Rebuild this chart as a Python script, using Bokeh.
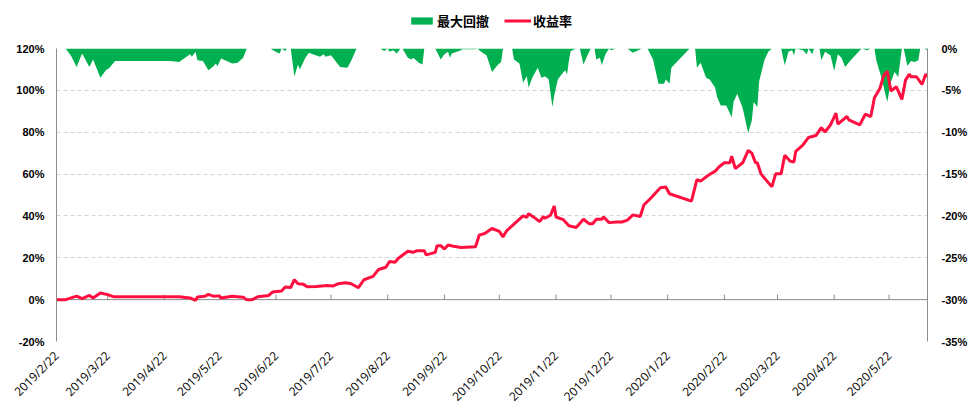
import pandas as pd
from math import pi
from bokeh.plotting import figure
from bokeh.layouts import column
from bokeh.models import Range1d, LinearAxis, FixedTicker, Legend, LegendItem, Span
from bokeh.embed import file_html
from bokeh.resources import INLINE

# ---------------- data ----------------
ret_dates = [
    "2019-02-22", "2019-02-27", "2019-03-05", "2019-03-08", "2019-03-12", "2019-03-14", "2019-03-18",
    "2019-03-22", "2019-03-25", "2019-04-30", "2019-05-06", "2019-05-09", "2019-05-10", "2019-05-14",
    "2019-05-16", "2019-05-19", "2019-05-22", "2019-05-23", "2019-05-29", "2019-06-04", "2019-06-06",
    "2019-06-09", "2019-06-12", "2019-06-18", "2019-06-20", "2019-06-25", "2019-06-27", "2019-06-30",
    "2019-07-02", "2019-07-04", "2019-07-07", "2019-07-09", "2019-07-14", "2019-07-20", "2019-07-23",
    "2019-07-26", "2019-07-30", "2019-08-02", "2019-08-06", "2019-08-09", "2019-08-14", "2019-08-17",
    "2019-08-21", "2019-08-23", "2019-08-26", "2019-08-28", "2019-09-02", "2019-09-05", "2019-09-07",
    "2019-09-11", "2019-09-12", "2019-09-17", "2019-09-18", "2019-09-20", "2019-09-22", "2019-09-24",
    "2019-09-27", "2019-10-01", "2019-10-09", "2019-10-11", "2019-10-14", "2019-10-18", "2019-10-22",
    "2019-10-24", "2019-10-26", "2019-10-30", "2019-11-04", "2019-11-06", "2019-11-07", "2019-11-10",
    "2019-11-13", "2019-11-15", "2019-11-16", "2019-11-19", "2019-11-21", "2019-11-22", "2019-11-26",
    "2019-11-29", "2019-12-03", "2019-12-07", "2019-12-10", "2019-12-12", "2019-12-14", "2019-12-17",
    "2019-12-18", "2019-12-21", "2019-12-25", "2019-12-28", "2019-12-31", "2020-01-03", "2020-01-07",
    "2020-01-09", "2020-01-13", "2020-01-18", "2020-01-21", "2020-01-23", "2020-02-04", "2020-02-07",
    "2020-02-09", "2020-02-13", "2020-02-17", "2020-02-19", "2020-02-22", "2020-02-25", "2020-02-26",
    "2020-02-28", "2020-03-01", "2020-03-03", "2020-03-06", "2020-03-08", "2020-03-10", "2020-03-11",
    "2020-03-13", "2020-03-17", "2020-03-19", "2020-03-21", "2020-03-24", "2020-03-26", "2020-03-29",
    "2020-03-31", "2020-04-01", "2020-04-05", "2020-04-08", "2020-04-12", "2020-04-15", "2020-04-17",
    "2020-04-20", "2020-04-23", "2020-04-24", "2020-04-29", "2020-04-30", "2020-05-06", "2020-05-09",
    "2020-05-12", "2020-05-14", "2020-05-17", "2020-05-19", "2020-05-21", "2020-05-23", "2020-05-26",
    "2020-05-29", "2020-05-31", "2020-06-02", "2020-06-03", "2020-06-06", "2020-06-09", "2020-06-11",
    "2020-06-12",
]
ret_values = [
    0.0, 0.0, 1.7, 0.5, 2.0, 0.8, 3.2,
    2.4, 1.4, 1.4, 0.8, -0.3, 1.3, 1.6,
    2.5, 1.6, 1.8, 0.8, 1.6, 1.2, -0.1,
    0.0, 1.4, 2.0, 3.6, 4.1, 6.0, 5.8,
    9.5, 7.6, 7.3, 6.2, 6.3, 6.8, 6.5,
    7.6, 8.1, 7.6, 5.7, 9.5, 11.1, 14.4,
    15.5, 18.2, 17.9, 19.9, 23.1, 22.6, 23.4,
    23.4, 21.4, 22.6, 25.8, 25.8, 24.2, 26.1,
    25.5, 24.9, 25.3, 30.8, 31.6, 34.0, 32.6,
    30.0, 32.9, 36.1, 40.0, 39.3, 41.1, 39.3,
    37.3, 39.6, 38.9, 40.3, 44.7, 39.5, 38.2,
    35.3, 34.5, 38.4, 36.3, 36.3, 38.4, 38.4,
    39.5, 36.8, 37.1, 37.1, 38.0, 40.5, 39.7,
    45.2, 48.7, 53.5, 53.8, 50.6, 47.1, 57.4,
    56.6, 59.3, 61.4, 63.4, 65.4, 65.4, 68.5,
    62.6, 64.0, 65.4, 71.3, 70.0, 65.4, 65.4,
    60.1, 55.9, 54.0, 60.1, 60.1, 69.0, 66.1,
    65.8, 70.9, 74.0, 77.5, 78.4, 82.2, 80.1,
    83.5, 89.1, 83.9, 87.5, 85.9, 83.5, 88.6,
    87.5, 96.5, 100.9, 106.9, 109.2, 99.7, 101.7,
    95.7, 104.9, 107.7, 106.5, 106.5, 102.8, 107.7,
    106.5,
]

dd_dates = [
    "2019-02-22", "2019-02-27", "2019-03-02", "2019-03-05", "2019-03-08", "2019-03-12", "2019-03-14",
    "2019-03-18", "2019-03-21", "2019-03-23", "2019-03-26", "2019-04-25", "2019-04-30", "2019-05-06",
    "2019-05-07", "2019-05-09", "2019-05-10", "2019-05-13", "2019-05-16", "2019-05-19", "2019-05-20",
    "2019-05-21", "2019-05-23", "2019-05-29", "2019-06-01", "2019-06-04", "2019-06-06", "2019-06-19",
    "2019-06-21", "2019-06-24", "2019-06-25", "2019-06-27", "2019-06-28", "2019-06-30", "2019-07-02",
    "2019-07-04", "2019-07-05", "2019-07-08", "2019-07-10", "2019-07-12", "2019-07-16", "2019-07-18",
    "2019-07-19", "2019-07-22", "2019-07-27", "2019-07-31", "2019-08-02", "2019-08-05", "2019-08-18",
    "2019-08-20", "2019-08-22", "2019-08-23", "2019-08-25", "2019-08-27", "2019-08-29", "2019-08-30",
    "2019-09-02", "2019-09-04", "2019-09-05", "2019-09-08", "2019-09-10", "2019-09-11", "2019-09-17",
    "2019-09-20", "2019-09-22", "2019-09-24", "2019-09-25", "2019-09-26", "2019-09-30", "2019-10-02",
    "2019-10-09", "2019-10-10", "2019-10-12", "2019-10-15", "2019-10-18", "2019-10-21", "2019-10-23",
    "2019-10-24", "2019-10-29", "2019-10-30", "2019-11-02", "2019-11-04", "2019-11-06", "2019-11-07",
    "2019-11-09", "2019-11-12", "2019-11-14", "2019-11-16", "2019-11-18", "2019-11-20", "2019-11-21",
    "2019-11-23", "2019-11-25", "2019-11-27", "2019-11-28", "2019-11-29", "2019-11-30", "2019-12-01",
    "2019-12-03", "2019-12-05", "2019-12-07", "2019-12-09", "2019-12-11", "2019-12-13", "2019-12-14",
    "2019-12-16", "2019-12-17", "2019-12-19", "2019-12-21", "2019-12-22", "2019-12-25", "2019-12-31",
    "2020-01-03", "2020-01-06", "2020-01-08", "2020-01-11", "2020-01-14", "2020-01-17", "2020-01-20",
    "2020-01-21", "2020-01-23", "2020-01-24", "2020-02-03", "2020-02-06", "2020-02-07", "2020-02-09",
    "2020-02-12", "2020-02-14", "2020-02-17", "2020-02-18", "2020-02-20", "2020-02-23", "2020-02-26",
    "2020-02-27", "2020-02-29", "2020-03-03", "2020-03-06", "2020-03-08", "2020-03-09", "2020-03-11",
    "2020-03-12", "2020-03-15", "2020-03-17", "2020-03-19", "2020-03-24", "2020-03-26", "2020-03-28",
    "2020-03-30", "2020-03-31", "2020-04-01", "2020-04-05", "2020-04-07", "2020-04-08", "2020-04-10",
    "2020-04-11", "2020-04-14", "2020-04-15", "2020-04-17", "2020-04-20", "2020-04-22", "2020-04-24",
    "2020-04-26", "2020-04-28", "2020-05-01", "2020-05-07", "2020-05-10", "2020-05-12", "2020-05-14",
    "2020-05-15", "2020-05-18", "2020-05-21", "2020-05-23", "2020-05-25", "2020-05-27", "2020-05-29",
    "2020-05-30", "2020-06-01", "2020-06-03", "2020-06-05", "2020-06-07", "2020-06-08", "2020-06-10",
    "2020-06-12",
]
dd_values = [
    0.0, 0.0, -0.9, -2.2, -0.6, -2.2, -1.3,
    -3.5, -2.6, -2.3, -1.5, -1.5, -1.6, -0.7,
    -1.0, -0.4, -1.4, -1.5, -2.6, -2.1, -1.8,
    -2.1, -1.2, -1.8, -1.7, -1.1, 0.0, 0.0,
    -0.3, -0.6, 0.0, -0.3, 0.0, 0.0, -3.3,
    -1.9, -2.5, -1.1, -0.5, -0.7, -1.0, -0.7,
    -1.0, -0.8, -2.2, -2.3, -1.5, 0.0, 0.0,
    -0.3, 0.0, -0.4, -0.2, -0.6, 0.0, 0.0,
    -1.1, -1.3, -1.1, -1.7, -1.9, 0.0, 0.0,
    -1.3, -0.7, -0.4, -1.1, -0.6, -0.3, -0.1,
    -0.1, 0.0, -0.4, -0.8, -2.8, -2.0, -1.6,
    0.0, 0.0, -1.3, -1.8, -4.1, -3.3, -4.7,
    -3.5, -2.3, -3.5, -3.3, -3.7, -7.0, -5.6,
    -3.7, -3.1, -2.6, -3.1, -1.5, -0.3, -0.2,
    0.0, 0.0, -1.9, -0.9, 0.0, 0.0, -1.3,
    -1.1, -2.0, -0.7, 0.0, -0.2, 0.0, 0.0,
    -0.5, -0.2, 0.0, 0.0, -1.3, -4.2, -4.2,
    -3.7, -4.2, -2.3, 0.0, 0.0, -2.3, -1.7,
    -3.5, -3.7, -4.7, -5.8, -6.8, -6.8, -8.2,
    -6.4, -5.4, -7.1, -10.1, -8.6, -6.4, -7.0,
    -3.9, -1.3, -0.4, 0.0, 0.0, -2.0, -0.4,
    -0.2, -0.8, 0.0, -0.2, -0.7, 0.0, -0.7,
    0.0, 0.0, -1.4, -0.4, -0.8, -2.7, -0.7,
    -1.1, -2.2, -1.4, 0.0, -0.2, 0.0, 0.0,
    -1.4, -3.6, -6.4, -4.0, -2.8, -3.4, 0.0,
    0.0, -2.1, -1.5, -1.6, -1.4, 0.0, 0.0,
    -0.2,
]

tick_labels = [
    "2019/2/22", "2019/3/22", "2019/4/22", "2019/5/22", "2019/6/22", "2019/7/22", "2019/8/22",
    "2019/9/22", "2019/10/22", "2019/11/22", "2019/12/22", "2020/1/22", "2020/2/22", "2020/3/22",
    "2020/4/22", "2020/5/22",
]
left_ticks = [-20, 0, 20, 40, 60, 80, 100, 120]
right_ticks = [-35, -30, -25, -20, -15, -10, -5, 0]
start_date = "2019-02-22"
end_date = "2020-06-12"

series_names = ["最大回撤", "收益率"]

# ---------------- helpers ----------------
start = pd.Timestamp(start_date)


def to_days(ds):
    return [int((pd.Timestamp(s) - start).days) for s in ds]


ret_x = to_days(ret_dates)
dd_x = to_days(dd_dates)
tick_x = to_days([s.replace("/", "-") for s in tick_labels])
x_end = to_days([end_date])[0]

GREEN = "#00B050"
RED = "#FF0F40"
AXIS_GRAY = "#8C8C8C"
GRID = "#D4D4D4"
W = 970

# ---------------- main chart ----------------
p = figure(
    width=W, height=375,
    output_backend="svg", toolbar_location=None,
    x_range=Range1d(0, x_end), y_range=Range1d(-20, 120),
    min_border_left=56, min_border_right=40, min_border_top=10, min_border_bottom=70,
)
p.outline_line_color = None
p.background_fill_color = "white"
p.border_fill_color = "white"
p.extra_y_ranges = {"dd": Range1d(-35, 0)}

p.xgrid.visible = False
p.ygrid.grid_line_color = GRID
p.ygrid.grid_line_dash = "4 3"
p.ygrid.grid_line_width = 1

area = p.varea(x=dd_x, y1=[0.0] * len(dd_x), y2=dd_values, fill_color=GREEN, y_range_name="dd")

p.add_layout(Span(location=0, dimension="width", line_color=AXIS_GRAY, line_width=1, level="underlay"))
p.segment(x0=tick_x, y0=[0] * len(tick_x), x1=tick_x, y1=[2.4] * len(tick_x),
          line_color=AXIS_GRAY, line_width=1)

line = p.line(x=ret_x, y=ret_values, line_color=RED, line_width=3)

ya = p.yaxis[0]
ya.ticker = FixedTicker(ticks=left_ticks)
ya.major_label_overrides = {v: f"{v}%" for v in left_ticks}
ya.axis_line_color = AXIS_GRAY
ya.major_tick_line_color = None
ya.minor_tick_line_color = None
ya.major_label_text_font = "Liberation Sans"
ya.major_label_text_font_style = "bold"
ya.major_label_text_font_size = "11px"
ya.major_label_text_color = "#000000"
ya.major_label_standoff = 6

ra = LinearAxis(y_range_name="dd")
ra.ticker = FixedTicker(ticks=right_ticks)
ra.major_label_overrides = {v: f"{v}%" for v in right_ticks}
ra.axis_line_color = AXIS_GRAY
ra.major_tick_line_color = None
ra.minor_tick_line_color = None
ra.major_label_text_font = "Liberation Sans"
ra.major_label_text_font_style = "bold"
ra.major_label_text_font_size = "11px"
ra.major_label_text_color = "#000000"
ra.major_label_standoff = 8
p.add_layout(ra, "right")

xa = p.xaxis[0]
xa.ticker = FixedTicker(ticks=tick_x)
xa.major_label_overrides = {v: lab for v, lab in zip(tick_x, tick_labels)}
xa.axis_line_color = None
xa.major_tick_line_color = None
xa.minor_tick_line_color = None
xa.major_label_orientation = pi / 4
xa.major_label_text_font = "Open Sans"
xa.major_label_text_font_size = "12px"
xa.major_label_text_color = "#000000"
xa.major_label_standoff = 6

# ---------------- legend strip ----------------
lg = figure(
    width=W, height=38, output_backend="svg", toolbar_location=None,
    x_range=Range1d(0, 1), y_range=Range1d(0, 1),
    x_axis_location=None, y_axis_location=None, min_border=0,
)
lg.outline_line_color = None
lg.grid.visible = False
# legend-only renderers, placed outside the visible range
lg_area = lg.varea(x=[2, 3], y1=[0, 0], y2=[1, 1], fill_color=GREEN)
lg_line = lg.line(x=[2, 3], y=[0, 0], line_color=RED, line_width=3)
legend = Legend(
    items=[LegendItem(label=series_names[0], renderers=[lg_area]),
           LegendItem(label=series_names[1], renderers=[lg_line])],
    orientation="horizontal",
    location=(352, 8),
    label_text_font="Noto Sans CJK SC",
    label_text_font_size="13px",
    label_text_font_style="bold",
    label_text_color="#000000",
    glyph_width=27, glyph_height=9, label_height=9,
    spacing=15, label_standoff=2, padding=0, margin=0,
    border_line_color=None, background_fill_alpha=0,
)
lg.add_layout(legend, "center")

layout = column(lg, p, spacing=0)
open("out.html", "w").write(file_html(layout, INLINE))
